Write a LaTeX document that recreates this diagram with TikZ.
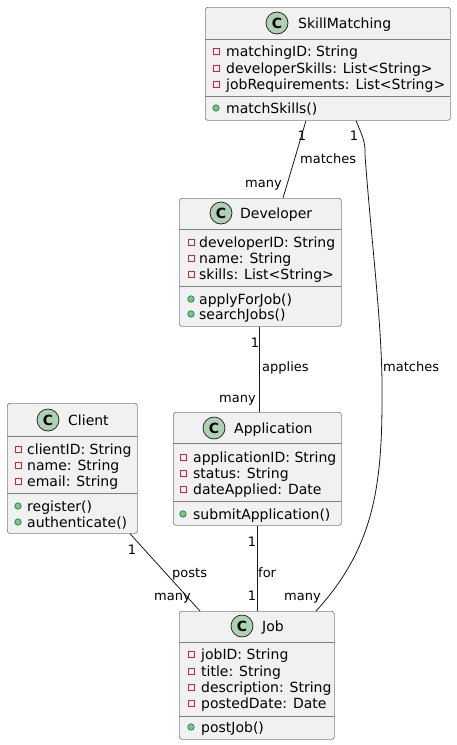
\documentclass[tikz,border=0pt]{standalone}
\usepackage{fontspec}
\setmainfont{DejaVu Sans}
\begin{document}
\begin{tikzpicture}[x=1pt,y=-1pt,
  cls/.style={draw=boxborder, fill=boxfill, rounded corners=2.5pt, line width=0.7pt, inner sep=0pt, anchor=north west},
  sepline/.style={draw=boxborder, line width=0.7pt},
  title/.style={anchor=base west, inner sep=0pt, font=\fontsize{14}{16}\selectfont},
  attr/.style={anchor=base west, inner sep=0pt, font=\fontsize{14}{16}\selectfont},
  lbl/.style={inner sep=0pt, font=\fontsize{13}{15}\selectfont},
  badge/.style={circle, draw=badgeborder, fill=badgefill, line width=0.7pt, minimum size=22pt, inner sep=0pt, font=\bfseries\fontsize{14}{16}\selectfont},
  priv/.style={draw=privcol, line width=1pt, fill=none, minimum size=6pt, inner sep=0pt},
  pub/.style={circle, draw=pubborder, fill=pubfill, line width=0.6pt, minimum size=6.5pt, inner sep=0pt},
  assoc/.style={draw=edgecol, line width=0.8pt}
]
\definecolor{boxfill}{HTML}{F1F1F1}
\definecolor{boxborder}{HTML}{808080}
\definecolor{badgefill}{HTML}{ADD1B2}
\definecolor{badgeborder}{HTML}{181818}
\definecolor{privcol}{HTML}{C82930}
\definecolor{pubfill}{HTML}{84BE84}
\definecolor{pubborder}{HTML}{038048}
\definecolor{edgecol}{HTML}{181818}
\useasboundingbox (0,0) rectangle (456,745);

% ---------- SkillMatching ----------
\node[cls, minimum width=245pt, minimum height=113pt] (sm) at (205,7) {};
\draw[sepline] (205,39) -- (450,39);
\draw[sepline] (205,96) -- (450,96);
\node[badge] (smc) at (277,23) {C};
\node[title] (smt) at (298,28) {SkillMatching};
\node[priv] (smp1) at (216,51) {}; \node[attr] (sma1) at (226,56) {matchingID: String};
\node[priv] (smp2) at (216,68) {}; \node[attr] (sma2) at (226,73) {developerSkills: List<String>};
\node[priv] (smp3) at (216,84) {}; \node[attr] (sma3) at (226,89) {jobRequirements: List<String>};
\node[pub] (smm1p) at (216,108) {}; \node[attr] (smm1) at (226,113) {matchSkills()};

% ---------- Developer ----------
\node[cls, minimum width=162pt, minimum height=128pt] (dev) at (179,198) {};
\draw[sepline] (179,229) -- (341,229);
\draw[sepline] (179,286) -- (341,286);
\node[badge] (devc) at (221,213) {C};
\node[title] (devt) at (240,218) {Developer};
\node[priv] (devp1) at (191,242) {}; \node[attr] (deva1) at (199,247) {developerID: String};
\node[priv] (devp2) at (191,258) {}; \node[attr] (deva2) at (199,263) {name: String};
\node[priv] (devp3) at (191,274) {}; \node[attr] (deva3) at (199,279) {skills: List<String>};
\node[pub] (devm1p) at (191,299) {}; \node[attr] (devm1) at (199,304) {applyForJob()};
\node[pub] (devm2p) at (191,314) {}; \node[attr] (devm2) at (199,319) {searchJobs()};

% ---------- Client ----------
\node[cls, minimum width=130pt, minimum height=130pt] (cli) at (7,403) {};
\draw[sepline] (7,436) -- (137,436);
\draw[sepline] (7,493) -- (137,493);
\node[badge] (clic) at (48,420) {C};
\node[title] (clit) at (68,425) {Client};
\node[priv] (clip1) at (18,449) {}; \node[attr] (clia1) at (27,454) {clientID: String};
\node[priv] (clip2) at (18,465) {}; \node[attr] (clia2) at (27,470) {name: String};
\node[priv] (clip3) at (18,481) {}; \node[attr] (clia3) at (27,486) {email: String};
\node[pub] (clim1p) at (18,506) {}; \node[attr] (clim1) at (27,511) {register()};
\node[pub] (clim2p) at (18,522) {}; \node[attr] (clim2) at (27,527) {authenticate()};

% ---------- Application ----------
\node[cls, minimum width=168pt, minimum height=113pt] (app) at (173,412) {};
\draw[sepline] (173,443) -- (341,443);
\draw[sepline] (173,501) -- (341,501);
\node[badge] (appc) at (214,428) {C};
\node[title] (appt) at (234,433) {Application};
\node[priv] (appp1) at (183,457) {}; \node[attr] (appa1) at (193,462) {applicationID: String};
\node[priv] (appp2) at (183,473) {}; \node[attr] (appa2) at (193,478) {status: String};
\node[priv] (appp3) at (183,489) {}; \node[attr] (appa3) at (193,494) {dateApplied: Date};
\node[pub] (appm1p) at (183,514) {}; \node[attr] (appm1) at (193,519) {submitApplication()};

% ---------- Job ----------
\node[cls, minimum width=155pt, minimum height=128pt] (job) at (179,611) {};
\draw[sepline] (179,642) -- (334,642);
\draw[sepline] (179,716) -- (334,716);
\node[badge] (jobc) at (242,626) {C};
\node[title] (jobt) at (262,631) {Job};
\node[priv] (jobp1) at (191,654) {}; \node[attr] (joba1) at (201,659) {jobID: String};
\node[priv] (jobp2) at (191,671) {}; \node[attr] (joba2) at (201,676) {title: String};
\node[priv] (jobp3) at (191,687) {}; \node[attr] (joba3) at (201,692) {description: String};
\node[priv] (jobp4) at (191,703) {}; \node[attr] (joba4) at (201,708) {postedDate: Date};
\node[pub] (jobm1p) at (191,727) {}; \node[attr] (jobm1) at (201,732) {postJob()};

% ---------- Associations ----------
% SkillMatching -- Developer
\draw[assoc] (sm.south -| 306,0) -- (dev.north -| 283,0);
\node[lbl, anchor=base] (l1) at (302,140) {1};
\node[lbl, anchor=base west] (l2) at (300,163) {matches};
\node[lbl, anchor=base east] (l3) at (282,187) {many};

% SkillMatching -- Job (curved)
\draw[assoc] (sm.south -| 356,0) .. controls (361,133) and (366,142) .. (365,155)
  .. controls (372,250) and (383,330) .. (382,400)
  .. controls (382,490) and (372,550) .. (job.north -| 316,0);
\node[lbl, anchor=base] (l4) at (354,140) {1};
\node[lbl, anchor=base west] (l5) at (383,371) {matches};
\node[lbl, anchor=base east] (l6) at (321,600) {many};

% Developer -- Application
\draw[assoc] (dev.south -| 259,0) -- (app.north -| 259,0);
\node[lbl, anchor=base] (l7) at (255,347) {1};
\node[lbl, anchor=base west] (l8) at (262,371) {applies};
\node[lbl, anchor=base east] (l9) at (256,402) {many};

% Application -- Job
\draw[assoc] (app.south -| 257,0) -- (job.north -| 257,0);
\node[lbl, anchor=base] (l10) at (252,546) {1};
\node[lbl, anchor=base west] (l11) at (258,577) {for};
\node[lbl, anchor=base] (l12) at (252,600) {1};

% Client -- Job
\draw[assoc] (cli.south -| 130,0) -- (job.north -| 200,0);
\node[lbl, anchor=base] (l13) at (132,554) {1};
\node[lbl, anchor=base west] (l14) at (172,577) {posts};
\node[lbl, anchor=base east] (l15) at (191,600) {many};
\end{tikzpicture}
\end{document}
